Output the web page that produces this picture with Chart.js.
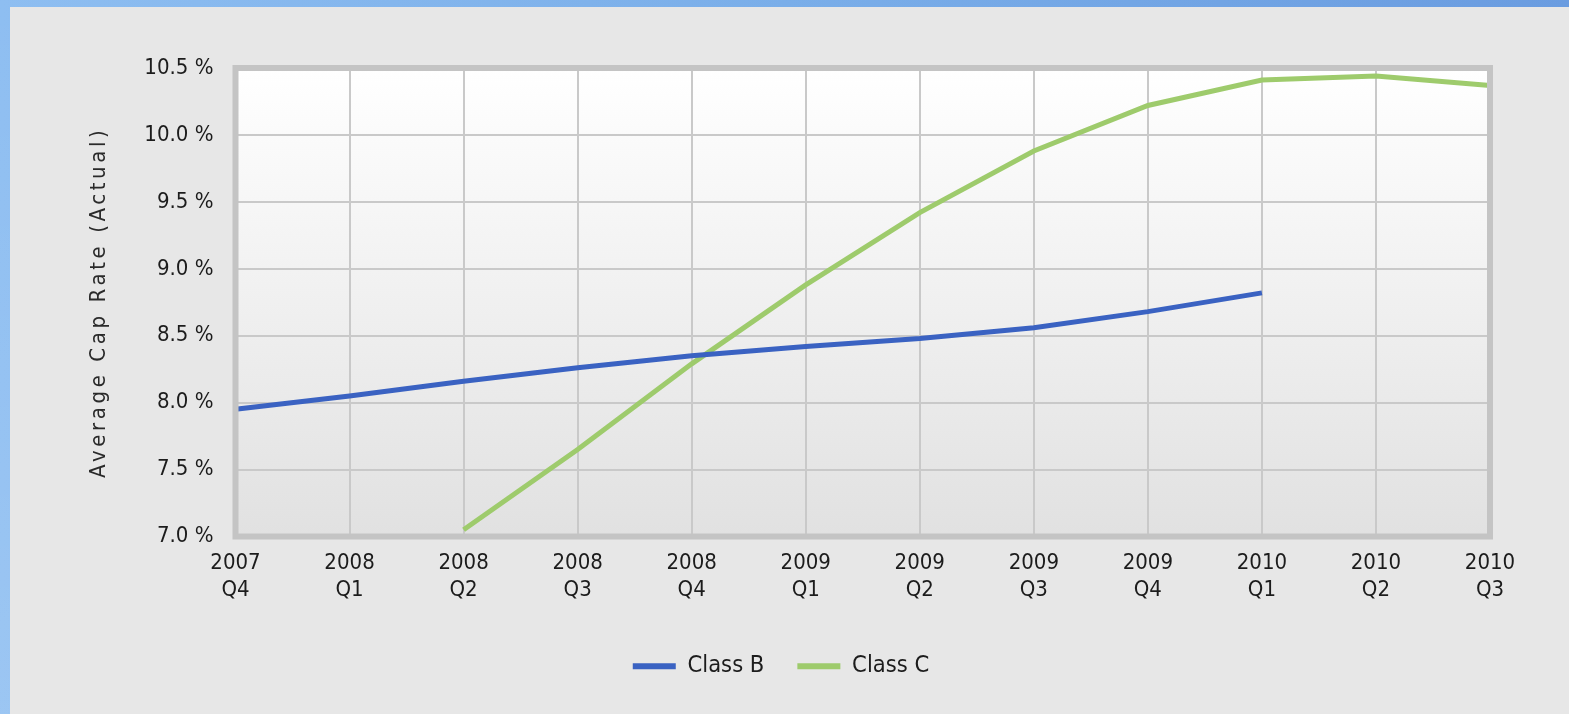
<!DOCTYPE html>
<html>
<head>
<meta charset="utf-8">
<title>Average Cap Rate (Actual)</title>
<script src="https://cdn.jsdelivr.net/npm/chart.js@4.4.1/dist/chart.umd.min.js"></script>
<style>
  html, body { margin: 0; padding: 0; width: 1569px; height: 714px; overflow: hidden; }
  body {
    background:
      linear-gradient(180deg, rgba(255,255,255,0) 0%, rgba(255,255,255,0.12) 100%),
      linear-gradient(90deg, #8ebef1 0%, #7aaee9 50%, #6a9ce0 100%);
  }
  #panel { position: absolute; left: 10px; top: 7px; width: 1559px; height: 707px; background: #e7e7e7; }
</style>
</head>
<body>
<div id="panel"><canvas id="chart"></canvas></div>
<script>
// Quarters on the x axis (two-line labels: year, quarter)
const categories = [
  ['2007', 'Q4'], ['2008', 'Q1'], ['2008', 'Q2'], ['2008', 'Q3'], ['2008', 'Q4'],
  ['2009', 'Q1'], ['2009', 'Q2'], ['2009', 'Q3'], ['2009', 'Q4'],
  ['2010', 'Q1'], ['2010', 'Q2'], ['2010', 'Q3']
];

// Average cap rate, percent
const classB = [7.95, 8.05, 8.16, 8.26, 8.35, 8.42, 8.48, 8.56, 8.68, 8.82, null, null];
const classC = [null, null, 7.05, 7.65, 8.29, 8.88, 9.42, 9.88, 10.22, 10.41, 10.44, 10.37];

// Value axis range and step
const yMin = 7.0;
const yMax = 10.5;
const yStep = 0.5;

const FONT = '"DejaVu Sans Condensed", "DejaVu Sans", sans-serif';
const TEXT = '#1c1c1c';

// White-to-grey fill behind the plot
const plotBackground = {
  id: 'plotBackground',
  beforeDraw(chart) {
    const { ctx, chartArea: a } = chart;
    const g = ctx.createLinearGradient(0, a.top, 0, a.bottom);
    g.addColorStop(0, '#ffffff');
    g.addColorStop(1, '#e1e1e1');
    ctx.save();
    ctx.fillStyle = g;
    ctx.fillRect(a.left, a.top, a.right - a.left, a.bottom - a.top);
    ctx.restore();
  }
};

// Thick grey frame around the plot, drawn over the lines
const plotFrame = {
  id: 'plotFrame',
  afterDatasetsDraw(chart) {
    const { ctx, chartArea: a } = chart;
    ctx.save();
    ctx.strokeStyle = '#c4c4c4';
    ctx.lineWidth = 6;
    ctx.strokeRect(a.left, a.top, a.right - a.left, a.bottom - a.top);
    ctx.restore();
  }
};

// Wider letter spacing for the value axis title
const spacedAxisTitle = {
  id: 'spacedAxisTitle',
  beforeDraw(chart) {
    const s = chart.scales.y;
    if (s && !s._spacedTitle) {
      const draw = s.drawTitle;
      s.drawTitle = function () {
        const c = this.ctx;
        c.save();
        c.letterSpacing = '3.6px';
        draw.call(this);
        c.restore();
      };
      s._spacedTitle = true;
    }
  }
};

new Chart(document.getElementById('chart'), {
  type: 'line',
  data: {
    labels: categories,
    datasets: [
      {
        label: 'Class B',
        data: classB,
        borderColor: '#3a62c2',
        backgroundColor: '#3a62c2',
        borderWidth: 5,
        pointRadius: 0,
        tension: 0,
        fill: false
      },
      {
        label: 'Class C',
        data: classC,
        borderColor: '#9ecb6c',
        backgroundColor: '#9ecb6c',
        borderWidth: 5,
        pointRadius: 0,
        tension: 0,
        fill: false
      }
    ]
  },
  options: {
    responsive: true,
    maintainAspectRatio: false,
    animation: false,
    layout: { padding: { top: 61, left: 0, right: 17, bottom: 26 } },
    plugins: {
      tooltip: { enabled: false },
      legend: {
        position: 'bottom',
        labels: {
          boxWidth: 43,
          boxHeight: 6,
          padding: 33,
          color: TEXT,
          font: { family: FONT, size: 23.5 },
          generateLabels: (chart) =>
            Chart.defaults.plugins.legend.labels.generateLabels(chart).map(l => ({ ...l, lineWidth: 0 }))
        }
      }
    },
    scales: {
      x: {
        offset: false,
        grid: { color: '#c9c9c9', lineWidth: 2, drawTicks: false },
        border: { display: false },
        ticks: {
          autoSkip: false,
          maxRotation: 0,
          padding: 14,
          color: TEXT,
          font: { family: FONT, size: 22 }
        },
        afterFit(s) { s.height = 85; s.paddingRight = 79; }
      },
      y: {
        min: yMin,
        max: yMax,
        grid: { color: '#c9c9c9', lineWidth: 2, drawTicks: false },
        border: { display: false },
        ticks: {
          stepSize: yStep,
          padding: 22,
          color: TEXT,
          font: { family: FONT, size: 22 },
          callback: (v) => v.toFixed(1) + ' %'
        },
        title: {
          display: true,
          text: 'Average Cap Rate (Actual)',
          color: '#2a2a2a',
          font: { family: FONT, size: 22 },
          padding: { top: 76, bottom: 0 }
        },
        afterFit(s) { s.width = 225.5; }
      }
    }
  },
  plugins: [plotBackground, plotFrame, spacedAxisTitle]
});
</script>
</body>
</html>
